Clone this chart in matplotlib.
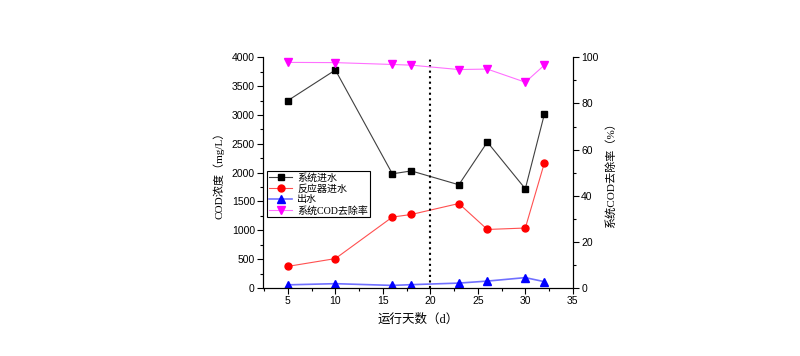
import matplotlib
matplotlib.use("Agg")
import matplotlib.pyplot as plt
from matplotlib.ticker import MultipleLocator

plt.rcParams['font.family'] = ['Liberation Sans', 'Noto Sans CJK SC', 'DejaVu Sans']
CJK = ['Liberation Serif', 'Noto Sans CJK SC', 'DejaVu Sans']

days = [5, 10, 16, 18, 23, 26, 30, 32]
sys_in = [3250, 3780, 1980, 2030, 1790, 2530, 1720, 3010]      # 系统进水
reactor_in = [375, 510, 1230, 1275, 1465, 1015, 1040, 2165]    # 反应器进水
effluent = [55, 75, 45, 58, 85, 120, 180, 110]                 # 出水
removal = [97.8, 97.7, 96.9, 96.6, 94.7, 94.9, 89.2, 96.6]     # 系统COD去除率 (%)
zero_pts_x = [5, 10, 16, 18, 23]
zero_pts_y = [5, 5, 5, 5, 5]

fig = plt.figure(figsize=(8, 3.56), dpi=100)
ax = fig.add_axes([0.329, 0.191, 0.387, 0.648])
ax2 = ax.twinx()

ax.plot(zero_pts_x, zero_pts_y, ls='none', marker='s', ms=3.5, color='black')
l1, = ax.plot(days, sys_in, color='#404040', lw=0.8, marker='s', ms=4.5,
              mfc='black', mec='black', label='系统进水')
l2, = ax.plot(days, reactor_in, color='#ff5050', lw=0.8, marker='o', ms=5,
              mfc='red', mec='red', label='反应器进水')
l3, = ax.plot(days, effluent, color='#7070ff', lw=1.2, marker='^', ms=5.5,
              mfc='blue', mec='blue', label='出水')
l4, = ax2.plot(days, removal, color='#ff70ff', lw=0.8, marker='v', ms=5.5,
               mfc='magenta', mec='magenta', label='系统COD去除率')

ax.axvline(20, color='black', ls=':', lw=1.5)

ax.set_xlim(2.4, 35)
ax.set_ylim(0, 4000)
ax2.set_ylim(0, 100)
ax.xaxis.set_major_locator(MultipleLocator(5))
ax.xaxis.set_minor_locator(MultipleLocator(2.5))
ax.yaxis.set_major_locator(MultipleLocator(500))
ax.yaxis.set_minor_locator(MultipleLocator(250))
ax2.yaxis.set_major_locator(MultipleLocator(20))
ax2.yaxis.set_minor_locator(MultipleLocator(10))

for a in (ax, ax2):
    a.spines['top'].set_visible(False)
    a.tick_params(which='major', length=4, width=0.8, labelsize=7.5, pad=2)
    a.tick_params(which='minor', length=2.5, width=0.8)

ax.set_xlabel('运行天数（d）', fontsize=9, family=CJK, labelpad=5)
ax.set_ylabel('COD浓度（mg/L）', fontsize=8, family=CJK, labelpad=5)
ax2.set_ylabel('系统COD去除率（%）', fontsize=8, family=CJK, labelpad=5)

leg = ax.legend([l1, l2, l3, l4], [l.get_label() for l in (l1, l2, l3, l4)],
                loc='upper left', bbox_to_anchor=(0.334, 0.5205),
                bbox_transform=fig.transFigure,
                prop={'family': CJK, 'size': 7.2},
                frameon=True, fancybox=False, edgecolor='black', framealpha=1,
                borderpad=0.2, labelspacing=0.15, handlelength=2.3,
                handletextpad=0.5, borderaxespad=0)
leg.get_frame().set_linewidth(0.8)
leg.set_zorder(10)

fig.savefig('out.png', dpi=100)
